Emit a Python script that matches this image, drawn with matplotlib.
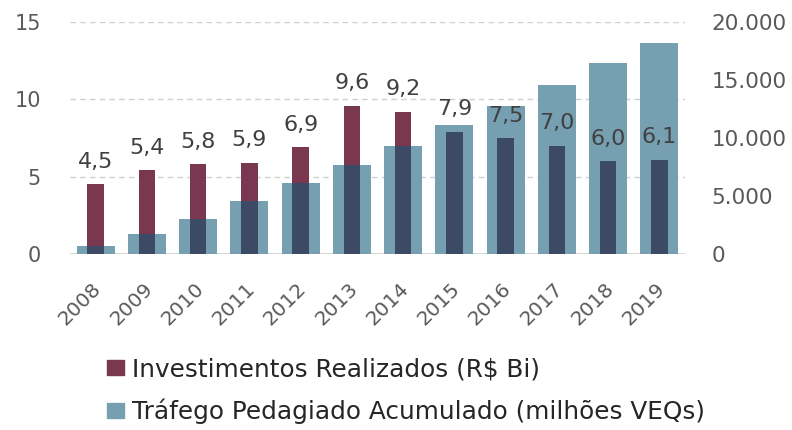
import matplotlib
matplotlib.use("Agg")
import matplotlib.pyplot as plt
import matplotlib.transforms as mtransforms
from matplotlib.patches import Patch
import numpy as np

years = ["2008", "2009", "2010", "2011", "2012", "2013", "2014",
         "2015", "2016", "2017", "2018", "2019"]
investimentos = [4.5, 5.4, 5.8, 5.9, 6.9, 9.6, 9.2, 7.9, 7.5, 7.0, 6.0, 6.1]
trafego = [700, 1700, 3000, 4550, 6100, 7650, 9350, 11100, 12800, 14550, 16450, 18200]
left_ticks = [0, 5, 10, 15]
right_ticks = [0, 5000, 10000, 15000, 20000]

MAROON = "#7a3750"
BLUE = "#76a0b2"
DARK = "#3c4a66"
TICK_GREY = "#595959"
TEXT = "#404040"

plt.rcParams['font.family'] = ['DejaVu Sans']

fig = plt.figure(figsize=(7.92, 4.30), dpi=100)
ax = fig.add_axes([70/792, 1-254/430, 615/792, 232/430])
ax2 = ax.twinx()

x = np.arange(len(years))
L_MAX, R_MAX = 15, 20000

ax.set_ylim(0, L_MAX)
ax2.set_ylim(0, R_MAX)
ax.set_xlim(-0.5, len(years) - 0.5)

ax.set_zorder(1)
ax2.set_zorder(2)
ax.patch.set_visible(False)
ax2.patch.set_visible(False)

ax.bar(x, investimentos, width=0.32, color=MAROON, zorder=2)
ax2.bar(x, trafego, width=0.74, color=BLUE, zorder=1)
overlap = [min(i, t * L_MAX / R_MAX) * R_MAX / L_MAX for i, t in zip(investimentos, trafego)]
ax2.bar(x, overlap, width=0.32, color=DARK, zorder=3)

for xi, v in zip(x, investimentos):
    ax2.annotate(f"{v:.1f}".replace(".", ","), xy=(xi, v * R_MAX / L_MAX),
                 xytext=(0, 9), textcoords="offset points",
                 ha="center", va="bottom", fontsize=16, color=TEXT, zorder=5)

for t in left_ticks[1:]:
    ax.axhline(t, color="#d0d0d0", lw=1, ls=(0, (4, 3)), zorder=0)
ax.axhline(0, color="#d0d0d0", lw=1.2, zorder=0)

for a in (ax, ax2):
    for s in a.spines.values():
        s.set_visible(False)

ax.set_yticks(left_ticks)
ax.set_yticklabels([str(t) for t in left_ticks])
ax2.set_yticks(right_ticks)
ax2.set_yticklabels([f"{t:,}".replace(",", ".") for t in right_ticks])
ax.tick_params(axis="y", length=0, pad=21, labelsize=15, labelcolor=TICK_GREY)
ax2.tick_params(axis="y", length=0, pad=19, labelsize=15.5, labelcolor=TICK_GREY)

ax.set_xticks(x)
ax.set_xticklabels(years, rotation=45, ha="right", rotation_mode="anchor")
ax.tick_params(axis="x", length=0, pad=18, labelsize=14.5, labelcolor=TICK_GREY)
offset = mtransforms.ScaledTranslation(-4/100, 0, fig.dpi_scale_trans)
for lbl in ax.get_xticklabels():
    lbl.set_transform(lbl.get_transform() + offset)

handles = [Patch(color=MAROON, label="Investimentos Realizados (R$ Bi)"),
           Patch(color=BLUE, label="Tráfego Pedagiado Acumulado (milhões VEQs)")]
fig.legend(handles=handles, loc="upper left", bbox_to_anchor=(107/792, 1-357/430),
           frameon=False, fontsize=17.8, handlelength=0.68, handleheight=0.57,
           handletextpad=0.35, labelspacing=0.72, labelcolor="#262626",
           borderaxespad=0, borderpad=0)

fig.savefig("out.png", dpi=100)
